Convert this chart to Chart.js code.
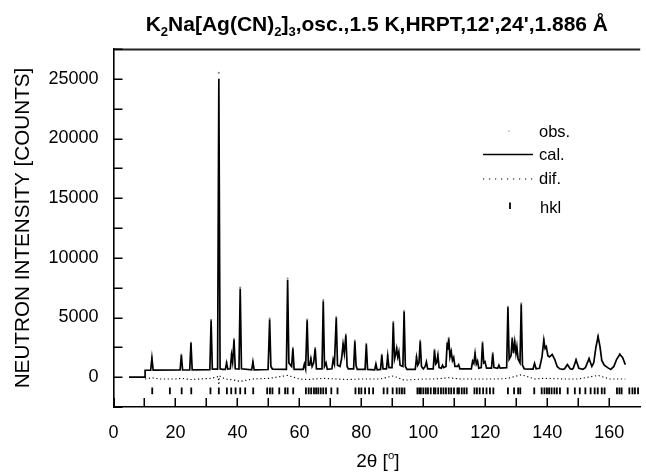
<!DOCTYPE html>
<html>
<head>
<meta charset="utf-8">
<script src="https://cdn.jsdelivr.net/npm/chart.js@4.4.1/dist/chart.umd.min.js"></script>
<style>
  html, body { margin: 0; padding: 0; background: #fff; }
  #wrap { width: 646px; height: 473px; }
</style>
</head>
<body>
<div id="wrap"><canvas id="c" width="646" height="473"></canvas></div>
<script>
// Powder pattern of K2Na[Ag(CN)2]3 (HRPT, 1.5 K): observed, calculated, difference, reflection marks.

// Calculated profile: [2theta (deg), counts]
const calProfile = [
  [5,0],[10.2,0],[10.2,580],[12.0,590],[12.4,1600],[12.8,590],
  [21.5,600],[21.9,1850],[22.3,600],
  [24.6,600],[25.0,2850],[25.4,610],
  [31.1,620],[31.5,4750],[31.9,680],[33.6,680],[34.0,25000],[34.4,700],[35.2,650],
  [36.1,650],[36.5,1200],[36.9,680],[37.7,700],[38.1,1850],[38.45,1250],[38.9,3150],[39.3,700],
  [40.5,680],[40.9,7400],[41.3,700],[44.6,620],[45.0,1280],[45.4,620],
  [49.9,640],[50.4,4830],[50.8,900],[51.3,680],
  [55.8,650],[56.2,8150],[56.6,1200],[57.5,900],[57.9,2400],[58.3,650],
  [61.2,650],[61.6,1100],[62.0,700],[62.5,4770],[62.9,1000],[63.3,1000],[63.7,1550],[64.1,900],[64.6,1200],[65.1,2400],[65.5,700],
  [67.3,700],[67.7,6350],[68.1,900],[68.6,1200],[69.0,650],
  [70.5,700],[70.9,1480],[71.3,1100],[71.9,4970],[72.3,1000],[73.1,900],[73.6,1500],[74.1,2760],[74.5,2000],[75.0,3520],[75.4,900],[75.8,700],
  [77.5,700],[77.9,3000],[78.3,950],[78.7,650],
  [81.2,650],[81.6,2760],[82.0,650],
  [84.3,620],[84.7,1100],[85.1,620],
  [86.2,650],[86.6,1850],[87.0,700],[88.1,700],[88.5,1760],[88.9,800],
  [89.9,800],[90.3,4580],[90.7,1500],[91.0,1800],[91.4,2400],[91.75,1700],[92.1,2120],[92.5,1000],[93.4,900],[93.8,5470],[94.2,900],[94.7,650],
  [97.4,650],[97.8,1650],[98.2,1000],[98.6,1200],[99.0,3000],[99.4,900],[100.0,700],[100.6,900],[101.0,1280],[101.4,700],
  [103.2,700],[103.6,2260],[104.0,1100],[104.3,1200],[104.7,1840],[105.1,800],[105.8,750],[106.2,1000],[106.6,800],
  [107.3,900],[107.7,2850],[107.95,2300],[108.2,3240],[108.6,1700],[109.0,2150],[109.4,1400],[109.8,1650],[110.2,900],[111.0,900],[111.4,1050],[111.8,700],
  [115.5,700],[115.9,1350],[116.3,1150],[116.7,1980],[117.1,1100],[117.5,1350],[117.9,750],[118.7,800],[119.1,2870],[119.5,1200],[119.9,1300],[120.4,750],
  [122.0,750],[122.4,1980],[122.8,800],[124.0,750],[124.4,1000],[124.8,750],
  [126.9,800],[127.3,5850],[127.7,1500],[128.3,1800],[128.7,3250],[129.1,2000],[129.5,2950],[129.9,2000],[130.2,2550],[130.6,1500],[131.2,1200],[131.6,6100],[132.0,1000],[132.6,700],
  [135.4,680],[135.9,1150],[136.4,700],
  [137.5,750],[138.3,1700],[138.9,3100],[139.3,2400],[139.7,2550],[140.2,1800],[140.7,1700],[141.6,1900],[142.4,1500],[143.2,900],[144.0,700],[145.0,650],
  [145.6,700],[146.5,1050],[147.4,700],[148.0,650],
  [148.4,750],[149.3,1450],[150.2,750],[151.5,650],[152.3,800],[153.5,1550],[154.4,900],[155.0,1200],[155.7,2500],[156.4,3400],[157.0,2600],[157.6,1400],[158.4,1000],[159.5,800],[160.5,650],[161.5,900],[162.4,1500],[163.4,1900],[164.3,1650],[165.2,1050]
];

// Observed intensities at the reflection maxima
const obsTheta  = [12.4, 21.9, 25.0, 31.5, 34.0, 36.5, 38.1, 38.9, 40.9, 45.0, 50.4, 56.2, 57.9, 62.5, 63.7, 65.1, 67.7, 71.9, 74.1, 75.0, 77.9, 81.6, 86.6, 88.5, 90.3, 91.4, 93.8, 97.8, 99.0, 103.6, 104.7, 107.7, 108.2, 109.0, 116.7, 119.1, 122.4, 127.3, 128.7, 129.5, 131.6, 138.9, 141.6, 149.3, 153.5, 156.4, 163.4];
const obsCounts = [1650, 1900, 2900, 4800, 25500, 1250, 1900, 3200, 7500, 1300, 4900, 8250, 2450, 4830, 1600, 2450, 6450, 5030, 2800, 3580, 3070, 2800, 1900, 1800, 4640, 2460, 5530, 1700, 3070, 2320, 1900, 2900, 3300, 2200, 2040, 2930, 2040, 5900, 3300, 3000, 6180, 3160, 1900, 1480, 1570, 3440, 1960];

// Difference curve (obs - cal)
const difTheta  = [10.2, 12.4, 15, 20, 21.9, 25, 28, 31.5, 33.8, 34.0, 34.2, 36, 38.9, 40.9, 45, 50.4, 56.2, 60, 62.5, 67.7, 71.9, 75, 80, 86, 90.3, 93.8, 100, 104, 108.2, 112, 119.1, 124, 127.3, 131.6, 136, 139, 145, 150, 156.4, 160, 165.2];
const difCounts = [-150, -50, -150, -150, -100, -200, -150, -100, 50, -650, 100, -150, -250, -350, -150, -100, 150, -150, -200, -100, -150, -200, -150, -150, 100, -250, -150, -150, -50, -150, -150, -150, -100, 200, -150, -100, -150, -150, 150, -150, -150];

// Bragg reflection positions
const hklTheta = [12.5, 18.2, 22.0, 25.1, 31.3, 34.0, 36.6, 38.0, 39.4, 40.9, 42.5, 45.1, 49.6, 50.5, 51.3, 53.5, 55.4, 56.2, 58.0,
  62.1, 63.0, 63.8, 64.7, 65.4, 66.1, 66.9, 67.7, 68.6, 70.3, 72.3, 78.1, 79.2, 80.0, 81.2, 82.5, 83.8, 87.2, 88.4,
  90.1, 91.4, 92.3, 93.1, 93.9, 98.1, 98.7, 99.2, 100.0, 100.8, 101.5, 102.4, 103.4, 103.9, 104.8, 105.7, 106.5, 107.3,
  108.2, 109.0, 109.9, 111.0, 111.5, 112.4, 113.2, 114.0, 116.5, 117.3, 118.2, 119.3, 120.4, 121.5, 122.6, 127.3, 129.3,
  130.6, 131.3, 135.8, 138.2, 139.1, 139.9, 140.6, 141.4, 142.3, 143.1, 144.1, 146.6, 148.9, 150.5, 152.3, 154.0, 155.3,
  156.3, 157.6, 158.5, 162.5, 163.3, 164.0, 166.5, 167.5, 168.3, 169.3];
const hklLevel = -1150;

// Axis ranges and labelled ticks
const xRange = [0, 170], xStep = 10, xLabelEvery = 20;
const yRange = [-2500, 27500], yStep = 2500, yLabels = [0, 5000, 10000, 15000, 20000, 25000];

const FONT = '"Liberation Sans", Arial, Helvetica, sans-serif';

// Mixed-size text (subscripts / superscripts) centred on cx
function drawRich(ctx, parts, cx, baseY, size, weight) {
  let w = 0;
  const widths = parts.map(p => {
    ctx.font = `${weight} ${p.s ? size * p.s : size}px ${FONT}`;
    const m = ctx.measureText(p.t).width;
    w += m;
    return m;
  });
  let x = cx - w / 2;
  ctx.textAlign = 'left';
  ctx.textBaseline = 'alphabetic';
  parts.forEach((p, i) => {
    ctx.font = `${weight} ${p.s ? size * p.s : size}px ${FONT}`;
    ctx.fillText(p.t, x, baseY + (p.dy || 0));
    x += widths[i];
  });
}

// Plot frame, inward tick marks, title and x-axis caption
const framePlugin = {
  id: 'framePlugin',
  afterDraw(chart) {
    const { ctx, chartArea: a, scales } = chart;
    const cx = (a.left + a.right) / 2;
    ctx.save();
    ctx.strokeStyle = '#222';
    ctx.lineWidth = 1.8;
    ctx.beginPath();
    ctx.moveTo(a.left, a.top + 0.5);
    ctx.lineTo(a.right, a.top + 0.5);
    ctx.stroke();
    ctx.strokeStyle = '#000';
    ctx.lineWidth = 1.5;
    const tl = 9;
    scales.x.ticks.forEach(t => {
      if (t.value % xStep !== 0 || t.value >= xRange[1]) return;
      const px = Math.round(scales.x.getPixelForValue(t.value)) + 0.25;
      ctx.beginPath();
      ctx.moveTo(px, a.bottom);
      ctx.lineTo(px, a.bottom - tl);
      ctx.stroke();
    });
    scales.y.ticks.forEach(t => {
      const py = Math.round(scales.y.getPixelForValue(t.value)) + 0.25;
      ctx.beginPath();
      ctx.moveTo(a.left, py);
      ctx.lineTo(a.left + tl, py);
      ctx.stroke();
    });
    ctx.fillStyle = '#000';
    drawRich(ctx, [
      { t: 'K' }, { t: '2', s: 0.62, dy: 5 }, { t: 'Na[Ag(CN)' }, { t: '2', s: 0.62, dy: 5 },
      { t: ']' }, { t: '3', s: 0.62, dy: 5 }, { t: ",osc.,1.5 K,HRPT,12',24',1.886 Å" }
    ], cx, 31, 21, 'bold');
    drawRich(ctx, [
      { t: '2θ [' }, { t: 'o', s: 0.6, dy: -8 }, { t: ']' }
    ], cx + 1, 467, 19, 'normal');
    ctx.restore();
  }
};

// Legend rows: sample + dataset label
const legendPlugin = {
  id: 'legendPlugin',
  afterDraw(chart) {
    const { ctx } = chart;
    const ds = chart.data.datasets;
    const textX = 539;
    ctx.save();
    ctx.strokeStyle = '#000';
    ctx.font = `16.5px ${FONT}`;
    ctx.textAlign = 'left';
    ctx.textBaseline = 'alphabetic';
    ctx.fillStyle = '#888';
    ctx.fillRect(508.5, 130.5, 1.2, 1.2);
    ctx.fillStyle = '#000';
    ctx.fillText(ds[0].label, textX, 137);
    ctx.lineWidth = 1.6;
    ctx.beginPath(); ctx.moveTo(483, 154.5); ctx.lineTo(533, 154.5); ctx.stroke();
    ctx.fillText(ds[1].label, textX, 160);
    ctx.lineWidth = 1.2;
    ctx.setLineDash([1.2, 4.8]);
    ctx.beginPath(); ctx.moveTo(483, 179); ctx.lineTo(533, 179); ctx.stroke();
    ctx.setLineDash([]);
    ctx.fillText(ds[2].label, textX, 184);
    ctx.lineWidth = 1.8;
    ctx.beginPath(); ctx.moveTo(510, 202.5); ctx.lineTo(510, 209); ctx.stroke();
    ctx.fillText(ds[3].label, textX + 1, 213);
    ctx.restore();
  }
};

const chart = new Chart(document.getElementById('c'), {
  type: 'scatter',
  data: {
    datasets: [
      {
        label: 'obs.',
        data: obsTheta.map((x, i) => ({ x, y: obsCounts[i] })),
        showLine: false,
        pointRadius: 1.1,
        pointBackgroundColor: '#888',
        pointBorderWidth: 0,
        order: 4
      },
      {
        label: 'cal.',
        data: calProfile.map(([x, y]) => ({ x, y })),
        showLine: true,
        borderColor: '#000',
        borderWidth: 1.7,
        pointRadius: 0,
        tension: 0,
        order: 3
      },
      {
        label: 'dif.',
        data: difTheta.map((x, i) => ({ x, y: difCounts[i] })),
        showLine: true,
        borderColor: '#000',
        borderWidth: 1.1,
        borderDash: [1.2, 2.6],
        pointRadius: 0,
        tension: 0,
        order: 2
      },
      {
        label: 'hkl',
        data: hklTheta.map(x => ({ x, y: hklLevel })),
        showLine: false,
        pointStyle: 'line',
        rotation: 90,
        pointRadius: 3.4,
        pointBorderColor: '#000',
        pointBorderWidth: 1.8,
        order: 1
      }
    ]
  },
  options: {
    responsive: false,
    devicePixelRatio: 1,
    animation: false,
    events: [],
    layout: { padding: { top: 49, right: 0, left: 0, bottom: 0 } },
    plugins: { legend: { display: false }, tooltip: { enabled: false }, title: { display: false } },
    scales: {
      x: {
        type: 'linear',
        min: xRange[0], max: xRange[1],
        grid: { display: false, drawTicks: false },
        border: { display: true, color: '#000', width: 1.6 },
        ticks: {
          stepSize: xStep,
          autoSkip: false,
          maxRotation: 0,
          padding: 15,
          color: '#000',
          font: { family: FONT, size: 18 },
          callback: v => (v % xLabelEvery === 0 ? String(v) : '')
        },
        afterFit: s => { s.height = 66; s.paddingLeft = 0; s.paddingRight = 0; }
      },
      y: {
        type: 'linear',
        min: yRange[0], max: yRange[1],
        grid: { display: false, drawTicks: false },
        border: { display: true, color: '#000', width: 1.6 },
        ticks: {
          stepSize: yStep,
          autoSkip: false,
          padding: 15,
          color: '#000',
          font: { family: FONT, size: 18 },
          callback: v => (yLabels.includes(v) ? String(v) : '')
        },
        title: {
          display: true,
          text: 'NEUTRON INTENSITY [COUNTS]',
          color: '#000',
          font: { family: FONT, size: 20.7 },
          padding: { top: 10.6, bottom: 0 }
        },
        afterFit: s => { s.width = 113.5; s.paddingTop = 0; s.paddingBottom = 0; }
      }
    }
  },
  plugins: [framePlugin, legendPlugin]
});
</script>
</body>
</html>
